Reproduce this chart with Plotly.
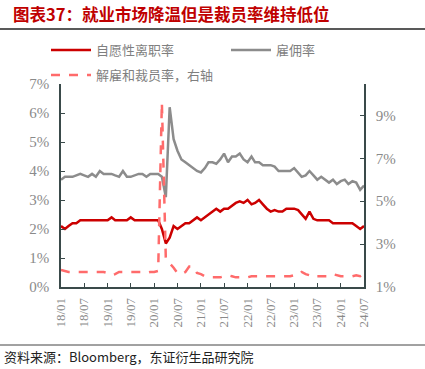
import pandas as pd
import plotly.graph_objects as go

dates = pd.date_range("2018-01-01", "2024-07-01", freq="MS")

quits_rate = [2.1, 2.0, 2.1, 2.2, 2.2, 2.3, 2.3, 2.3, 2.3, 2.3, 2.3, 2.3,
              2.3, 2.4, 2.3, 2.3, 2.3, 2.3, 2.4, 2.3, 2.3, 2.3, 2.3, 2.3,
              2.3, 2.3, 2.0, 1.5, 1.7, 2.1, 2.0, 2.1, 2.2, 2.2, 2.3, 2.4,
              2.3, 2.4, 2.5, 2.6, 2.7, 2.6, 2.7, 2.7, 2.8, 2.9, 2.95, 2.9,
              3.0, 2.85, 2.9, 3.0, 2.85, 2.7, 2.6, 2.65, 2.6, 2.6, 2.7, 2.7,
              2.7, 2.65, 2.5, 2.35, 2.6, 2.35, 2.3, 2.3, 2.3, 2.3, 2.2, 2.2,
              2.2, 2.2, 2.2, 2.2, 2.1, 2.0, 2.1]

hires_rate = [3.7, 3.8, 3.8, 3.8, 3.85, 3.9, 3.85, 3.8, 3.9, 3.8, 4.0, 3.9,
              3.9, 3.9, 3.85, 3.8, 4.0, 3.8, 3.8, 3.85, 3.9, 3.9, 3.8, 3.9,
              3.9, 3.9, 3.8, 3.1, 6.2, 5.1, 4.7, 4.4, 4.3, 4.2, 4.1, 4.0,
              3.95, 4.1, 4.3, 4.3, 4.25, 4.4, 4.6, 4.3, 4.5, 4.5, 4.6, 4.4,
              4.3, 4.5, 4.3, 4.3, 4.2, 4.2, 4.2, 4.15, 4.0, 4.0, 4.0, 4.0,
              4.1, 3.95, 3.8, 3.85, 4.0, 3.85, 3.7, 3.8, 3.7, 3.6, 3.7, 3.55,
              3.65, 3.7, 3.55, 3.65, 3.6, 3.35, 3.5]

layoffs_rate = [1.8, 1.75, 1.7, 1.7, 1.7, 1.7, 1.7, 1.7, 1.7, 1.7, 1.7, 1.7,
                1.65, 1.55, 1.6, 1.7, 1.7, 1.7, 1.7, 1.7, 1.7, 1.7, 1.65, 1.7,
                1.7, 1.75, 9.6, 2.3, 2.1, 1.9, 1.65, 1.6, 1.7, 1.95, 1.95, 1.65,
                1.6, 1.5, 1.5, 1.45, 1.45, 1.45, 1.5, 1.55, 1.5, 1.45, 1.45, 1.45,
                1.45, 1.5, 1.5, 1.5, 1.5, 1.5, 1.5, 1.5, 1.5, 1.5, 1.5, 1.5,
                1.55, 1.55, 1.7, 1.6, 1.55, 1.6, 1.5, 1.5, 1.5, 1.5, 1.6, 1.55,
                1.5, 1.5, 1.5, 1.5, 1.55, 1.5, 1.6]

names = ["自愿性离职率", "雇佣率", "解雇和裁员率，右轴"]
left_ticks = [0, 1, 2, 3, 4, 5, 6, 7]
right_ticks = [1, 3, 5, 7, 9]

CJK = "Noto Sans CJK SC"
SERIF = "Liberation Serif"
GREY = "#8a8a8a"
AXIS = "#3a4a4a"

W, H = 425, 369
L, R, T, B = 61, 364, 84, 287
pw, ph = R - L, B - T


def px(x):
    return (x - L) / pw


def py(y):
    return (B - y) / ph


fig = go.Figure()
fig.add_trace(go.Scatter(x=dates, y=quits_rate, name=names[0], mode="lines",
                         legend="legend",
                         line=dict(color="#cc0000", width=2.5)))
fig.add_trace(go.Scatter(x=dates, y=hires_rate, name=names[1], mode="lines",
                         legend="legend2",
                         line=dict(color="#8c8c8c", width=2.5)))
fig.add_trace(go.Scatter(x=dates, y=layoffs_rate, name=names[2], mode="lines",
                         yaxis="y2", legend="legend3",
                         line=dict(color="#ff6b6b", width=2.5, dash="dash")))

leg_common = dict(orientation="h", xanchor="left", yanchor="middle",
                  font=dict(family=CJK, size=13, color="#7f7f7f"),
                  bgcolor="rgba(0,0,0,0)", itemwidth=40)

fig.update_layout(
    width=W, height=H,
    margin=dict(l=L, r=W - R, t=T, b=H - B, autoexpand=False),
    paper_bgcolor="white", plot_bgcolor="white",
    title=dict(text="图表37：就业市场降温但是裁员率维持低位",
               x=13 / W, xanchor="left", xref="container",
               y=1 - 15 / H, yanchor="middle", yref="container",
               pad=dict(l=0, r=0, t=0, b=0),
               font=dict(family=CJK, size=16.5, color="#c00000", weight="bold")),
    showlegend=True,
    legend=dict(x=px(46), y=py(50), **leg_common),
    legend2=dict(x=px(226), y=py(50), **leg_common),
    legend3=dict(x=px(46), y=py(75), **leg_common),
    xaxis=dict(type="date", range=[dates[0], dates[-1]],
               tickvals=list(pd.date_range("2018-01-01", "2024-07-01", freq="6MS")),
               tickformat="%y/%m", tickangle=-90,
               ticks="inside", ticklen=4, tickcolor=AXIS,
               showline=True, linecolor=AXIS, linewidth=1.5,
               showgrid=False, zeroline=False, ticklabelstandoff=4,
               tickfont=dict(family=SERIF, size=13, color=GREY)),
    yaxis=dict(range=[0, 7], tickvals=left_ticks,
               ticktext=[f"{v}%" for v in left_ticks],
               ticks="inside", ticklen=4, tickcolor=AXIS,
               showline=True, linecolor=AXIS, linewidth=1.5,
               showgrid=False, zeroline=False, ticklabelstandoff=7,
               tickfont=dict(family=SERIF, size=15, color=GREY)),
    yaxis2=dict(range=[1, 10.46], tickvals=right_ticks,
                ticktext=[f"{v}%" for v in right_ticks],
                overlaying="y", side="right",
                ticks="inside", ticklen=4, tickcolor=AXIS,
                showline=True, linecolor=AXIS, linewidth=1.5,
                showgrid=False, zeroline=False, ticklabelstandoff=7,
                tickfont=dict(family=SERIF, size=15, color=GREY)),
    shapes=[
        dict(type="line", xref="paper", yref="paper",
             x0=px(0), x1=px(W), y0=py(29), y1=py(29),
             line=dict(color="#222222", width=1.5)),
        dict(type="line", xref="paper", yref="paper",
             x0=px(0), x1=px(W), y0=py(345), y1=py(345),
             line=dict(color="#444444", width=1)),
    ],
    annotations=[
        dict(text="资料来源：Bloomberg，东证衍生品研究院",
             xref="paper", yref="paper", x=px(2), y=py(356),
             xanchor="left", yanchor="middle", showarrow=False,
             font=dict(family=CJK, size=13, color="#222222")),
    ],
)

fig.write_html("out.html", config={"displayModeBar": False},
               post_script="document.body.style.margin='0px';document.body.style.padding='0px';")
